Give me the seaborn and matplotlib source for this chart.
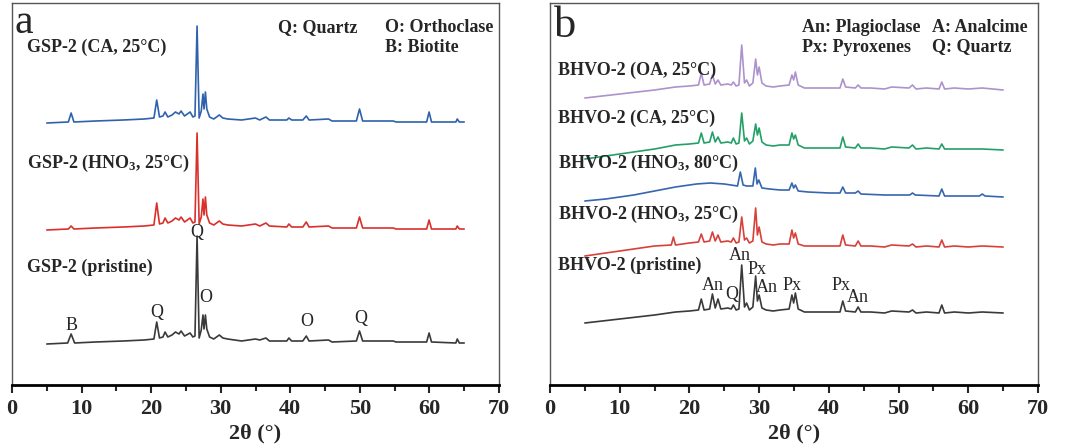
import pandas as pd
import matplotlib
matplotlib.use("Agg")
import matplotlib.pyplot as plt
import seaborn as sns
from matplotlib.ticker import MultipleLocator

# ---- data (2theta in degrees, stacked intensity in arbitrary units) ----
gsp_ca = [(5, 262), (8.1, 263), (8.5, 272), (8.9, 263), (12, 264), (16, 265), (19, 266), (20.4, 267),
          (20.8, 285), (21.2, 268), (21.7, 269), (22.0, 273), (22.4, 268), (23.0, 270), (23.5, 273),
          (24.0, 271), (24.3, 274), (24.8, 269), (25.6, 273), (26.0, 268), (26.3, 269), (26.6, 359),
          (26.9, 267), (27.2, 274), (27.45, 291), (27.6, 276), (27.8, 293), (28.0, 276), (28.4, 268),
          (29.0, 266), (29.8, 270), (30.3, 267), (31, 266), (33, 265), (35, 267), (35.6, 265),
          (36.5, 268), (37, 265), (39.5, 265), (39.8, 267), (40.2, 265), (41.8, 265), (42.3, 269),
          (42.7, 265), (45.5, 266), (46, 264), (49.5, 264), (49.95, 276), (50.4, 264), (54.8, 264),
          (55.2, 263), (59.6, 263), (59.95, 273), (60.3, 263), (63.8, 263), (64.0, 266), (64.3, 263),
          (65, 263)]
gsp_hno3 = [(5, 155), (8.1, 156), (8.5, 159), (8.9, 156), (12, 157), (16, 158), (19, 159), (20.4, 160),
            (20.8, 182), (21.2, 161), (21.7, 162), (22.0, 167), (22.4, 162), (23.0, 164), (23.5, 167),
            (24.0, 165), (24.3, 168), (24.8, 163), (25.6, 167), (26.0, 162), (26.3, 163), (26.6, 252),
            (26.9, 161), (27.2, 168), (27.45, 186), (27.6, 170), (27.8, 188), (28.0, 170), (28.4, 162),
            (29.0, 160), (29.8, 164), (30.3, 161), (31, 160), (33, 159), (35, 161), (35.6, 159),
            (36.5, 162), (37, 159), (39.5, 158), (39.8, 161), (40.2, 158), (41.8, 158), (42.3, 163),
            (42.7, 158), (45.5, 159), (46, 157), (49.5, 157), (49.95, 168), (50.4, 157), (54.8, 157),
            (55.2, 156), (59.6, 156), (59.95, 165), (60.3, 156), (63.8, 156), (64.0, 159), (64.3, 156),
            (65, 156)]
gsp_pristine = [(5, 41), (8.0, 42), (8.5, 51), (9.0, 42), (12, 43), (16, 44), (19, 45), (20.4, 46),
                (20.8, 63), (21.2, 47), (21.7, 48), (22.0, 53), (22.4, 48), (23.0, 50), (23.5, 53),
                (24.0, 51), (24.3, 54), (24.8, 49), (25.6, 52), (26.0, 48), (26.3, 49), (26.6, 149),
                (26.9, 47), (27.2, 55), (27.45, 70), (27.6, 56), (27.8, 70), (28.0, 56), (28.4, 48),
                (29.0, 46), (29.8, 50), (30.3, 47), (31, 46), (33, 44), (35, 46), (35.6, 45),
                (36.5, 47), (37, 44), (39.5, 44), (39.8, 47), (40.2, 44), (41.8, 44), (42.3, 49),
                (42.7, 44), (45.5, 45), (46, 43), (49.5, 44), (49.95, 54), (50.4, 44), (54.8, 44),
                (55.2, 43), (59.6, 43), (59.95, 52), (60.3, 43), (63.8, 42), (64.0, 46), (64.3, 42),
                (65, 42)]

bhvo_oa = [(5, 287), (10, 291), (15, 295), (18, 298), (20, 299), (21.3, 300), (21.7, 312), (22.1, 300),
           (22.9, 301), (23.3, 310), (23.7, 301), (24.1, 305), (24.5, 300), (25.5, 301), (26.0, 300),
           (26.3, 303), (26.7, 299), (27.1, 300), (27.5, 340), (27.9, 302), (28.2, 305), (28.6, 299),
           (29.1, 302), (29.5, 326), (29.75, 310), (30.0, 318), (30.4, 302), (31.0, 299), (32, 298),
           (33, 299), (34.3, 300), (34.7, 310), (34.95, 305), (35.2, 313), (35.6, 300), (36.5, 297),
           (38, 297), (40, 297), (41.6, 297), (42.0, 306), (42.4, 298), (43.8, 297), (44.2, 300),
           (44.6, 297), (46, 297), (48, 296), (49, 298), (51.5, 297), (52, 300), (52.5, 296), (54, 297),
           (55.8, 296), (56.2, 303), (56.6, 296), (58, 297), (60, 296), (62, 297), (65, 295)]
bhvo_ca = [(5, 226), (10, 231), (15, 236), (18, 240), (20, 241), (21.3, 242), (21.7, 252), (22.1, 242),
           (22.9, 243), (23.3, 253), (23.7, 243), (24.1, 248), (24.5, 242), (25.5, 243), (26.0, 242),
           (26.3, 247), (26.7, 241), (27.1, 242), (27.5, 272), (27.9, 244), (28.2, 247), (28.6, 241),
           (29.1, 244), (29.5, 261), (29.75, 250), (30.0, 257), (30.4, 243), (31.0, 240), (32, 239),
           (33, 240), (34.3, 240), (34.7, 252), (34.95, 246), (35.2, 250), (35.6, 240), (36.5, 237),
           (38, 237), (40, 237), (41.6, 237), (42.0, 248), (42.4, 238), (43.8, 237), (44.2, 241),
           (44.6, 237), (46, 237), (48, 236), (49, 238), (51.5, 237), (52, 240), (52.5, 236), (54, 237),
           (55.8, 236), (56.2, 241), (56.6, 236), (58, 236), (60, 236), (62, 236), (65, 235)]
bhvo_hno3_80 = [(5, 184), (8, 186), (12, 190), (15, 194), (18, 198), (21, 201), (23, 202), (25, 201),
                (26.9, 199), (27.3, 213), (27.7, 200), (28.2, 199), (29.1, 199), (29.45, 217), (29.7, 201),
                (29.95, 205), (30.4, 197), (31.5, 196), (33, 195), (34.3, 195), (34.7, 202), (34.95, 197),
                (35.2, 200), (35.6, 194), (37, 193), (40, 192), (41.6, 192), (42.0, 198), (42.4, 192),
                (43.8, 192), (44.2, 194), (44.6, 191), (48, 190), (51.6, 190), (52, 192), (52.4, 190),
                (55.8, 189), (56.2, 196), (56.6, 189), (60, 189), (61.6, 189), (62, 191), (62.4, 189),
                (65, 188)]
bhvo_hno3_25 = [(5, 129), (10, 134), (15, 139), (17.4, 140), (17.7, 148), (18.0, 140), (20, 142),
                (21.3, 143), (21.7, 151), (22.1, 143), (22.9, 144), (23.3, 153), (23.7, 144), (24.1, 150),
                (24.5, 143), (25.5, 144), (26.0, 143), (26.3, 147), (26.7, 142), (27.1, 143), (27.5, 168),
                (27.9, 145), (28.2, 147), (28.6, 142), (29.1, 144), (29.5, 177), (29.75, 150), (30.0, 158),
                (30.4, 143), (31.0, 141), (32, 140), (33, 141), (34.3, 141), (34.7, 155), (34.95, 147),
                (35.2, 152), (35.6, 141), (36.5, 139), (38, 139), (40, 139), (41.6, 139), (42.0, 150),
                (42.4, 140), (43.8, 139), (44.2, 144), (44.6, 139), (46, 139), (48, 138), (49, 140),
                (51.5, 139), (52, 141), (52.5, 138), (54, 139), (55.8, 138), (56.2, 145), (56.6, 138),
                (58, 139), (60, 138), (62, 139), (65, 138)]
bhvo_pristine = [(5, 62), (10, 66), (15, 70), (18, 73), (20, 74), (21.3, 75), (21.7, 86), (22.1, 75),
                 (22.9, 76), (23.3, 91), (23.7, 77), (24.1, 86), (24.5, 76), (25.5, 77), (26.0, 76),
                 (26.3, 80), (26.7, 75), (27.1, 76), (27.5, 120), (27.9, 78), (28.2, 82), (28.6, 75),
                 (29.1, 78), (29.5, 109), (29.75, 84), (30.0, 90), (30.4, 77), (31.0, 75), (32, 74),
                 (33, 75), (34.3, 76), (34.7, 90), (34.95, 82), (35.2, 92), (35.6, 76), (36.5, 73),
                 (38, 73), (40, 73), (41.6, 73), (42.0, 84), (42.4, 74), (43.8, 73), (44.2, 78),
                 (44.6, 73), (46, 73), (48, 72), (49, 74), (51.5, 73), (52, 75), (52.5, 72), (54, 73),
                 (55.8, 72), (56.2, 80), (56.6, 72), (58, 73), (60, 72), (62, 73), (65, 72)]

# labels
gsp_names = ["GSP-2 (CA, 25°C)", "GSP-2 (HNO$_3$, 25°C)", "GSP-2 (pristine)"]
gsp_name_y = [338, 222, 118]
bhvo_names = ["BHVO-2 (OA, 25°C)", "BHVO-2 (CA, 25°C)", "BHVO-2 (HNO$_3$, 80°C)",
              "BHVO-2 (HNO$_3$, 25°C)", "BHVO-2 (pristine)"]
bhvo_name_y = [315, 267, 222, 171, 120]

gsp_peak_labels = ["B", "Q", "Q", "O", "O", "Q"]
gsp_peak_x = [8.5, 20.8, 26.6, 27.8, 42.4, 50.2]
gsp_peak_y = [60, 73, 153, 87, 64, 66]

bhvo_peak_labels = ["An", "Px", "An", "Q", "An", "Px", "Px", "An"]
bhvo_peak_x = [27.3, 29.7, 23.4, 26.1, 31.1, 34.7, 41.7, 44.2]
bhvo_peak_y = [130, 116, 100, 91, 97, 100, 100, 87]

sns.set_style("ticks")
plt.rcParams['font.family'] = ['Liberation Serif', 'DejaVu Serif']
plt.rcParams['mathtext.fontset'] = 'custom'
plt.rcParams['mathtext.rm'] = 'Liberation Serif'
plt.rcParams['mathtext.bf'] = 'Liberation Serif:bold'
plt.rcParams['mathtext.default'] = 'bf'

fig = plt.figure(figsize=(10.69, 4.47), dpi=100)
ax_a = fig.add_axes([12 / 1069, 1 - 385 / 447, 487 / 1069, 382 / 447])
ax_b = fig.add_axes([550 / 1069, 1 - 385 / 447, 488 / 1069, 382 / 447])


def draw(ax, series, colors):
    for pts, c in zip(series, colors):
        df = pd.DataFrame(pts, columns=["two_theta", "intensity"])
        sns.lineplot(data=df, x="two_theta", y="intensity", color=c, lw=1.2,
                     estimator=None, sort=False, ax=ax)


draw(ax_a, [gsp_ca, gsp_hno3, gsp_pristine], ["#2f62ad", "#d9302b", "#3a3a3a"])
draw(ax_b, [bhvo_oa, bhvo_ca, bhvo_hno3_80, bhvo_hno3_25, bhvo_pristine],
     ["#ad92cc", "#23a068", "#3566ae", "#d8403a", "#3a3a3a"])

for ax in (ax_a, ax_b):
    ax.set_xlim(0, 70)
    ax.set_ylim(0, 382)
    ax.xaxis.set_major_locator(MultipleLocator(10))
    ax.xaxis.set_minor_locator(MultipleLocator(5))
    ax.set_yticks([])
    ax.set_ylabel("")
    ax.set_xlabel("2θ (°)", fontsize=16, fontweight="bold", labelpad=3)
    ax.tick_params(axis="x", which="major", direction="out", length=6, width=1.5,
                   labelsize=16, pad=4)
    ax.tick_params(axis="x", which="minor", direction="out", length=4, width=1.5)
    for lab in ax.get_xticklabels():
        lab.set_fontweight("bold")
    for side in ("left", "right", "top"):
        ax.spines[side].set_visible(True)
        ax.spines[side].set_linewidth(1.0)
        ax.spines[side].set_color("#555555")
    ax.spines["bottom"].set_linewidth(2.0)
    ax.spines["bottom"].set_color("black")

# panel a text
ax_a.text(0.4, 352, "a", fontsize=30, va="baseline")
for name, y in zip(gsp_names, gsp_name_y):
    ax_a.text(2.2, y, name, fontsize=13, fontweight="bold", va="center")
ax_a.text(38.2, 357, "Q: Quartz", fontsize=13, fontweight="bold", va="center")
ax_a.text(53.6, 357, "O: Orthoclase", fontsize=13, fontweight="bold", va="center")
ax_a.text(53.6, 338, "B: Biotite", fontsize=13, fontweight="bold", va="center")
for lab, x, y in zip(gsp_peak_labels, gsp_peak_x, gsp_peak_y):
    ax_a.text(x, y, lab, fontsize=13, ha="center", va="center")

# panel b text
ax_b.text(0.6, 348, "b", fontsize=32, va="baseline")
for name, y in zip(bhvo_names, bhvo_name_y):
    ax_b.text(1.15, y, name, fontsize=13, fontweight="bold", va="center")
ax_b.text(36.2, 358, "An: Plagioclase", fontsize=13, fontweight="bold", va="center")
ax_b.text(54.8, 358, "A: Analcime", fontsize=13, fontweight="bold", va="center")
ax_b.text(36.2, 338, "Px: Pyroxenes", fontsize=13, fontweight="bold", va="center")
ax_b.text(54.8, 338, "Q: Quartz", fontsize=13, fontweight="bold", va="center")
for lab, x, y in zip(bhvo_peak_labels, bhvo_peak_x, bhvo_peak_y):
    ax_b.text(x, y, lab, fontsize=13, ha="center", va="center")

fig.savefig("out.png", dpi=100)
